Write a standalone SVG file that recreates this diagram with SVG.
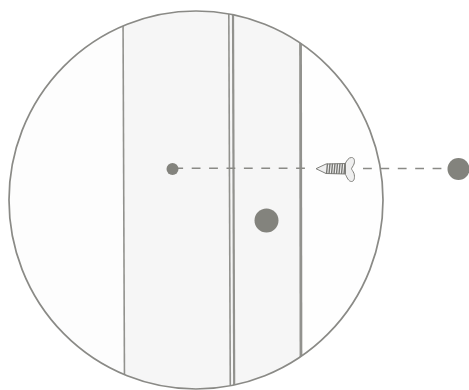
<svg xmlns="http://www.w3.org/2000/svg" width="469" height="390" viewBox="0 0 469 390">
  <defs>
    <clipPath id="wall"><ellipse cx="196" cy="200" rx="187" ry="189"/></clipPath>
  </defs>
  <style>
    .dot{fill:#83837d}
    .rib{stroke:#92928e;fill:none}
    .dash{stroke:#8a8a86;stroke-width:1.500;stroke-dasharray:8.800 8.600;fill:none}
    .screw{fill:#efefef;stroke:#80807c;stroke-width:1}
  </style>
  <g id="wall-panel">
    <g clip-path="url(#wall)">
      <rect x="9" y="11" width="115" height="378" fill="#fdfdfd"/>
      <rect x="124" y="11" width="177" height="378" fill="#f6f6f6"/>
      <rect x="301" y="11" width="82" height="378" fill="#fefefe"/>
      <path class="rib" stroke-width="1.600" d="M123 11L124.500 389"/>
      <path class="rib" stroke-width="1.600" d="M228.800 11L230.300 389"/>
      <path class="rib" stroke-width="2.200" d="M233 11L234.200 389"/>
      <path class="rib" stroke-width="2.800" d="M300.500 11L301 389"/>
    </g>
    <ellipse cx="196" cy="200" rx="187" ry="189" fill="none" stroke="#8a8a86" stroke-width="1.700"/>
  </g>
  <g id="connectors">
    <path class="dash" d="M174.300 168.200H313"/>
    <path class="dash" d="M363 168.500H446"/>
  </g>
  <g id="hole-small"><circle class="dot" cx="172.500" cy="169" r="6"/></g>
  <g id="hole-large"><circle class="dot" cx="266.500" cy="220.500" r="12"/></g>
  <g id="hole-right"><circle class="dot" cx="458.500" cy="169" r="11"/></g>
  <g id="screw">
    <path class="screw" d="M345 163.500L326 164L316 168.700L326 173.500L345 174Z"/>
    <path stroke="#787874" stroke-width="1.400" fill="none" d="M327.500 163.500L326.500 174M330 163.500L329 174M332.500 163.500L331.500 174M335 163.500L334 174M337.500 163.500L336.500 174M340 163.500L339 174M342.500 163.500L341.500 174M345 163.500L344 174"/>
    <path class="screw" d="M345.500 163C347 160.500 348.500 157.500 351.500 157.500C354.500 157.500 355 161 354 164C353 166.500 351.500 168 351.500 168.800C351.500 169.500 353 171 354 173.500C355 177 354.500 181.500 351.500 181.500C348.500 181.500 347 177.500 345.500 174.500Z"/>
  </g>
</svg>
